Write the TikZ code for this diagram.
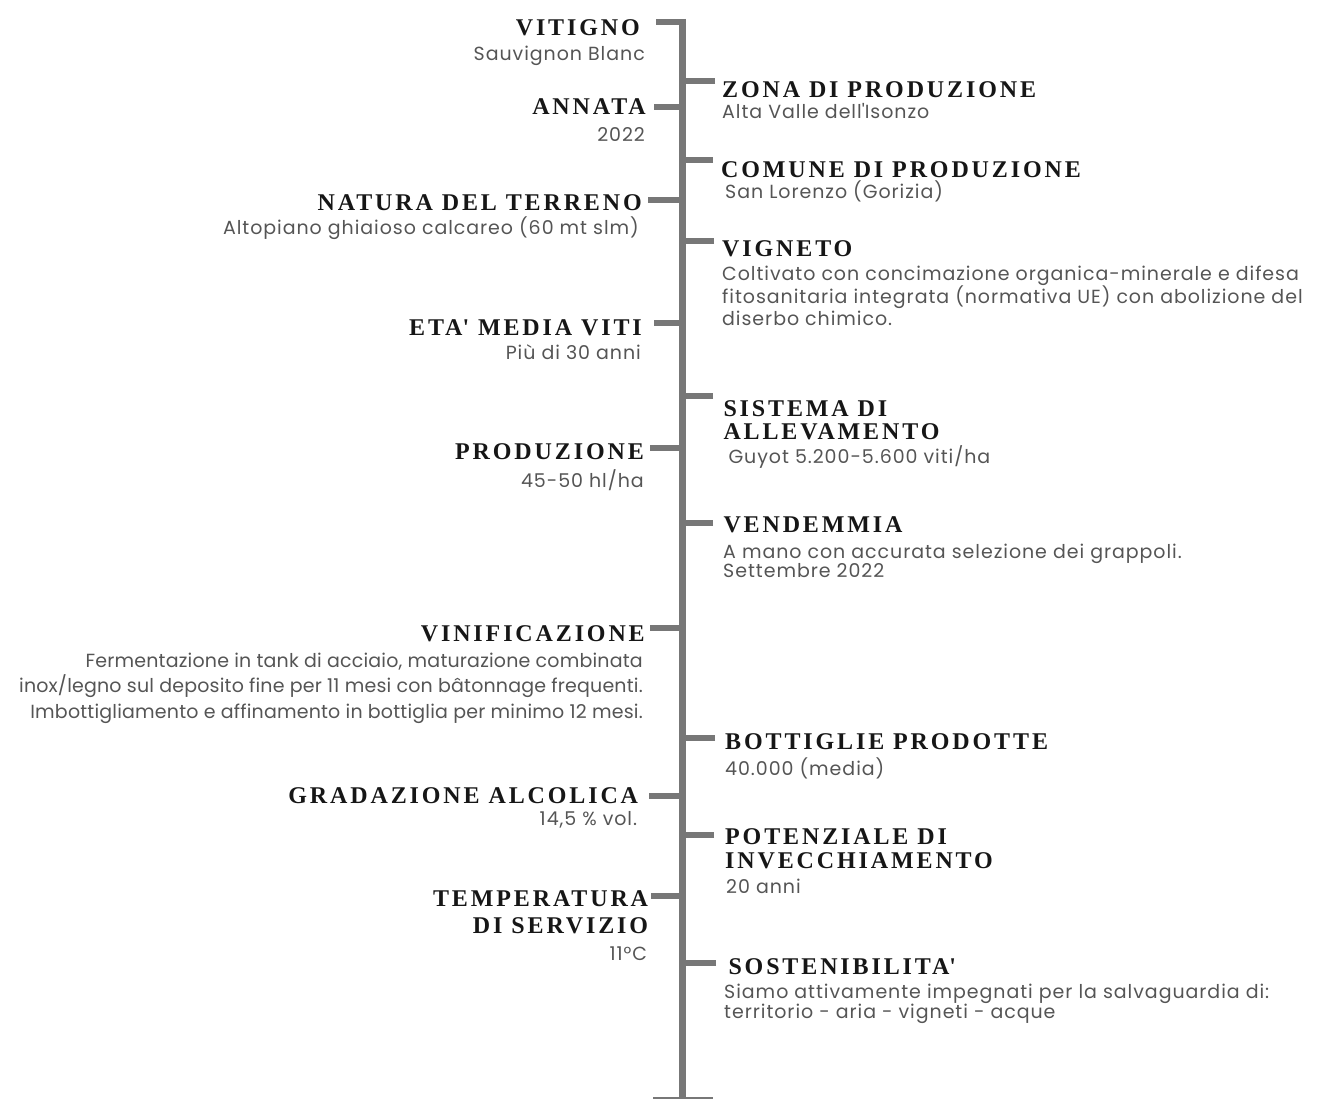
\documentclass[tikz,border=0pt]{standalone}
\usepackage{fontspec}
\newfontfamily\headfont{Liberation Serif}[LetterSpace=12]
\newfontfamily\detailfont{Poppins}[LetterSpace=5]
\definecolor{spinegray}{HTML}{777777}
\definecolor{headink}{HTML}{161616}
\definecolor{detailink}{HTML}{555555}
\begin{document}
\begin{tikzpicture}[x=1pt,y=-1pt,
  spine/.style={draw=spinegray,line width=7pt},
  stub/.style={draw=spinegray,line width=6pt},
  heading/.style={inner sep=0pt,text=headink,font=\headfont\bfseries\fontsize{24}{24}\selectfont},
  detail/.style={inner sep=0pt,text=detailink,font=\detailfont\fontsize{19}{21}\selectfont},
  leftside/.style={anchor=base east,align=right},
  rightside/.style={anchor=base west,align=left}]
\useasboundingbox (0,0) rectangle (1322,1099);
\coordinate (top) at (682,19);
\coordinate (bottom) at (682,1098);
\draw[spine] (top) -- (bottom);
\coordinate (foot-l) at (653,1098);
\coordinate (foot-r) at (713,1098);
\draw[spinegray,line width=2pt] (foot-l) -- (foot-r);
% left column (multi-line nodes sit on their last baseline)
\node[heading,leftside] (vitigno) at (640,35.7) {VITIGNO};
\node[detail,leftside] (vitigno-d) at (645,61) {Sauvignon Blanc};
\node[heading,leftside] (annata) at (646,114.3) {ANNATA};
\node[detail,leftside] (annata-d) at (645,141.7) {2022};
\node[heading,leftside] (natura) at (642,210.7) {NATURA DEL TERRENO};
\node[detail,leftside] (natura-d) at (639,234.3) {Altopiano ghiaioso calcareo (60 mt slm)};
\node[heading,leftside] (eta) at (642,335) {ETA\textquotesingle{} MEDIA VITI};
\node[detail,leftside] (eta-d) at (641,359.3) {Più di 30 anni};
\node[heading,leftside] (produzione) at (644,459) {PRODUZIONE};
\node[detail,leftside] (produzione-d) at (644,487) {45-50 hl/ha};
\node[heading,leftside] (vinificazione) at (645,641) {VINIFICAZIONE};
\node[detail,leftside,font=\detailfont\addfontfeatures{LetterSpace=1}\fontsize{19}{25.5}\selectfont] (vinificazione-d) at (643,718)
  {Fermentazione in tank di acciaio, maturazione combinata\\inox/legno sul deposito fine per 11 mesi con bâtonnage frequenti.\\Imbottigliamento e affinamento in bottiglia per minimo 12 mesi.};
\node[heading,leftside] (gradazione) at (638.3,803.3) {GRADAZIONE ALCOLICA};
\node[detail,leftside] (gradazione-d) at (637.3,825) {14,5 \% vol.};
\node[heading,leftside,font=\headfont\bfseries\fontsize{24}{27.3}\selectfont] (temperatura) at (648.3,933.3) {TEMPERATURA\\DI SERVIZIO};
\node[detail,leftside] (temperatura-d) at (647.3,960) {11°C};
% right column
\node[heading,rightside] (zona) at (722,98) {ZONA DI PRODUZIONE};
\node[detail,rightside] (zona-d) at (722,119) {Alta Valle dell\textquotesingle{}Isonzo};
\node[heading,rightside] (comune) at (721,178) {COMUNE DI PRODUZIONE};
\node[detail,rightside] (comune-d) at (725,199) {San Lorenzo (Gorizia)};
\node[heading,rightside] (vigneto) at (722,256.7) {VIGNETO};
\node[detail,rightside] (vigneto-d) at (722,325)
  {Coltivato con concimazione organica-minerale e difesa\\fitosanitaria integrata (normativa UE) con abolizione del\\diserbo chimico.};
\node[heading,rightside,font=\headfont\bfseries\fontsize{24}{23.3}\selectfont] (sistema) at (723.3,439.3) {SISTEMA DI\\ALLEVAMENTO};
\node[detail,rightside] (sistema-d) at (728.3,463.3) {Guyot 5.200-5.600 viti/ha};
\node[heading,rightside] (vendemmia) at (723.3,532.7) {VENDEMMIA};
\node[detail,rightside,font=\detailfont\fontsize{19}{19.5}\selectfont] (vendemmia-d) at (723,577.8)
  {A mano con accurata selezione dei grappoli.\\Settembre 2022};
\node[heading,rightside] (bottiglie) at (725,749.3) {BOTTIGLIE PRODOTTE};
\node[detail,rightside] (bottiglie-d) at (725,775) {40.000 (media)};
\node[heading,rightside,font=\headfont\bfseries\fontsize{24}{24.3}\selectfont] (potenziale) at (725,868.3) {POTENZIALE DI\\INVECCHIAMENTO};
\node[detail,rightside] (potenziale-d) at (726,893.3) {20 anni};
\node[heading,rightside] (sostenibilita) at (728.3,974) {SOSTENIBILITA\textquotesingle};
\node[detail,rightside,font=\detailfont\fontsize{19}{20}\selectfont] (sostenibilita-d) at (724,1018.3)
  {Siamo attivamente impegnati per la salvaguardia di:\\territorio - aria - vigneti - acque};
% stubs
\coordinate (vitigno-out) at (656,22);
\coordinate (annata-out) at (654,106.7);
\coordinate (natura-out) at (648,200);
\coordinate (eta-out) at (654,323);
\coordinate (produzione-out) at (650,448);
\coordinate (vinificazione-out) at (650,628);
\coordinate (gradazione-out) at (649,796);
\coordinate (temperatura-out) at (651,896);
\coordinate (zona-out) at (715,80.7);
\coordinate (comune-out) at (713,160);
\coordinate (vigneto-out) at (714,240.7);
\coordinate (sistema-out) at (713,396);
\coordinate (vendemmia-out) at (713,523);
\coordinate (bottiglie-out) at (715,738);
\coordinate (potenziale-out) at (714,835);
\coordinate (sostenibilita-out) at (716,963);
\draw[stub] (vitigno-out) -- (vitigno-out -| top);
\draw[stub] (annata-out) -- (annata-out -| top);
\draw[stub] (natura-out) -- (natura-out -| top);
\draw[stub] (eta-out) -- (eta-out -| top);
\draw[stub] (produzione-out) -- (produzione-out -| top);
\draw[stub] (vinificazione-out) -- (vinificazione-out -| top);
\draw[stub] (gradazione-out) -- (gradazione-out -| top);
\draw[stub] (temperatura-out) -- (temperatura-out -| top);
\draw[stub] (zona-out) -- (zona-out -| top);
\draw[stub] (comune-out) -- (comune-out -| top);
\draw[stub] (vigneto-out) -- (vigneto-out -| top);
\draw[stub] (sistema-out) -- (sistema-out -| top);
\draw[stub] (vendemmia-out) -- (vendemmia-out -| top);
\draw[stub] (bottiglie-out) -- (bottiglie-out -| top);
\draw[stub] (potenziale-out) -- (potenziale-out -| top);
\draw[stub] (sostenibilita-out) -- (sostenibilita-out -| top);
\end{tikzpicture}
\end{document}
